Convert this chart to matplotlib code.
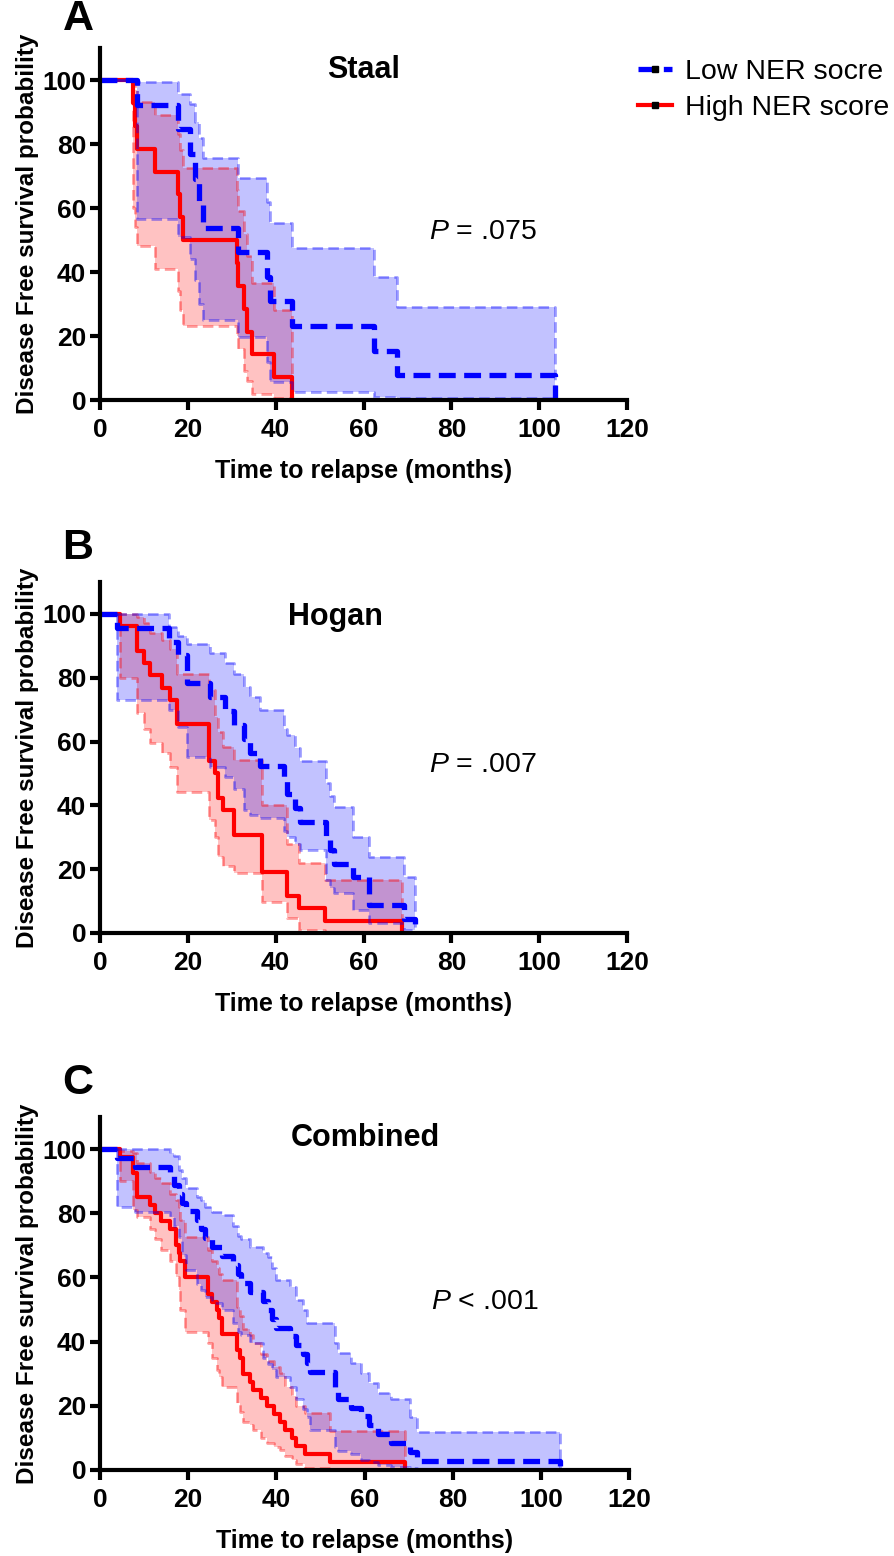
import numpy as np
import matplotlib.pyplot as plt
from matplotlib.lines import Line2D

plt.rcParams['font.family'] = ['Liberation Sans', 'DejaVu Sans']
plt.rcParams['font.weight'] = 'bold'
plt.rcParams['mathtext.fontset'] = 'custom'
plt.rcParams['mathtext.it'] = 'Liberation Sans:style=italic:weight=normal'
plt.rcParams['mathtext.rm'] = 'Liberation Sans:weight=normal'

# --- Staal: low NER score (blue) ---
staal_low_t = [0, 8.4, 17.8, 20.5, 21.6, 22.5, 23.5, 31.5, 38.0, 38.7, 43.7, 62.3, 67.6, 103.7]
staal_low_s = [100, 92.3, 84.6, 76.9, 69.2, 61.5, 53.8, 46.2, 38.5, 30.8, 23.1, 15.4, 7.7, 0]
staal_low_hi = [100, 99.5, 95.8, 92.5, 87, 81.9, 75.6, 69.4, 62, 55.2, 47.4, 38.5, 29.2, 0]
staal_low_lo = [100, 56.6, 51, 44, 37.5, 30, 25, 19.8, 12, 5.7, 2.6, 1, 0.5, 0]
# --- Staal: high NER score (red) ---
staal_high_t = [0, 7.4, 7.9, 8.4, 12.5, 17.8, 18.3, 18.8, 31.1, 31.5, 32.7, 33.4, 34.5, 39.5, 43.7]
staal_high_s = [100, 92.9, 85.7, 78.6, 71.4, 64.3, 57.1, 50, 42.9, 35.7, 28.6, 21.4, 14.3, 7.1, 0]
staal_high_hi = [100, 99.5, 97, 93, 89, 83, 78, 72.5, 65.6, 59, 52, 45, 36.5, 28, 0]
staal_high_lo = [100, 60, 54, 48, 41, 34, 28, 23, 20, 16, 9, 6, 2, 0.5, 0]

# --- Hogan: low NER score ---
hogan_low_t = [0, 3.8, 15.6, 17.8, 19.7, 25.1, 28.5, 30.4, 32.7, 34.2, 36.4, 41.8, 42.5, 44.4, 45.6,
               51.5, 52.3, 53.2, 57.5, 61.2, 69.1, 71.8]
hogan_low_s = [100, 95.7, 91.3, 87.0, 78.3, 73.9, 69.6, 65.2, 60.9, 56.5, 52.2, 47.8, 43.5, 39.1, 34.8,
               30.4, 26.1, 21.7, 17.4, 8.7, 4.3, 0]
hogan_low_hi = [100, 100, 96, 93, 90.5, 87.7, 84.6, 81, 77.2, 74, 69.9, 64, 62, 58, 54,
                47, 43, 39.6, 30, 23.9, 17.6, 0]
hogan_low_lo = [100, 73, 70, 64.7, 55.3, 52, 49, 45, 38.6, 37, 36, 32, 30.2, 28, 26,
                16.6, 14, 12.5, 7.2, 3, 1, 0]
# --- Hogan: high NER score ---
hogan_high_t = [0, 4.6, 8.4, 9.9, 11.4, 14.0, 15.9, 17.5, 24.7, 26.2, 26.9, 28.1, 30.4, 36.8, 42.5, 45.2, 51.3, 68.7]
hogan_high_s = [100, 96.2, 88.5, 84.6, 80.8, 76.9, 73.1, 65.4, 53.8, 50, 42.3, 38.5, 30.8, 19.2, 11.5, 7.7, 3.8, 0]
hogan_high_hi = [100, 100, 99, 97, 94, 91.8, 89, 81, 76, 67.8, 63, 58.4, 54.2, 40, 28, 21.9, 16.6, 0]
hogan_high_lo = [100, 80, 69, 64, 59.5, 56.4, 52, 44.3, 35.4, 30, 23.9, 21, 18.8, 9.8, 4.7, 1, 0.3, 0]

# --- Combined: low NER score ---
comb_low_t = [0, 3.8, 7.9, 15.9, 16.8, 17.8, 18.7, 19.6, 21.9, 22.8, 23.8, 25.5, 27.6, 30.2, 31.4, 32, 34, 37,
              38, 38.9, 40, 43.1, 44.5, 46, 46.9, 47.6, 53.3, 54, 57, 59.3, 61, 63.1, 66, 70.3, 71.8, 104.3]
comb_low_s = [100, 97.2, 94.4, 91.7, 88.9, 86.1, 83.3, 80.6, 77.8, 75, 72.2, 69.4, 66.7, 63.9, 61.1, 58.3, 55.6, 52.8,
              50, 47.2, 44.4, 41.7, 38.9, 36.1, 33.3, 30.6, 25, 22.2, 19.4, 16.7, 13.9, 11.1, 8.3, 5.6, 2.8, 0]
comb_low_hi = [100, 100, 100, 98.8, 97.8, 93.5, 91, 88, 85.2, 84, 82.1, 80.5, 79.5, 75.9, 73, 72, 69.6, 67.5,
               66.5, 63, 59.2, 57, 53, 50, 45.7, 45.7, 39.5, 36.4, 33.3, 30.2, 27, 23.9, 22, 16.6, 11.9, 0]
comb_low_lo = [100, 82.1, 80.5, 79, 76, 72.7, 67, 62.4, 58, 56, 54, 52, 49.9, 45.7, 43, 42, 39.5, 35,
               33, 31.2, 29, 26, 22, 19, 16.6, 12.5, 7.3, 6, 5, 3, 2.5, 1.5, 1, 0.5, 0.2, 0]
# --- Combined: high NER score ---
comb_high_t = [0, 4.5, 7.5, 8.3, 11.3, 12.5, 13.9, 15.9, 17.2, 17.8, 18.1, 19.3, 24.6, 25.5, 26.5, 27,
               27.6, 31, 31.8, 32.5, 34, 34.8, 36.5, 37.8, 39.5, 40.8, 42, 43.5, 44.5, 46.5, 52.2, 69.2]
comb_high_s = [100, 97.5, 92.5, 85, 82.5, 80, 77.5, 75, 70, 67.5, 65, 60, 55, 52.5, 50, 47.5,
               42.5, 37.5, 35, 30, 27.5, 25, 22.5, 20, 17.5, 15, 12.5, 10, 7.5, 5, 2.5, 0]
comb_high_hi = [100, 99.5, 98.8, 95.6, 93, 91, 89.4, 86, 84, 82.1, 78, 72.7, 68.6, 65, 63, 61,
                59.2, 50.9, 48, 44, 42, 39.5, 36, 34, 32, 30.2, 26, 22.9, 20, 17.7, 12, 0]
comb_high_lo = [100, 90, 81, 79, 75, 72, 68.6, 65, 60, 56, 50, 43.1, 39.5, 35, 31.2, 29,
                26, 20.8, 18, 15, 14, 12.5, 10, 8.5, 7, 6.2, 4.5, 3.1, 2, 0.5, 0.2, 0]

panel_letters = ['A', 'B', 'C']
panel_titles = ['Staal', 'Hogan', 'Combined']
p_texts = [r'$\it{P}$ = .075', r'$\it{P}$ = .007', r'$\it{P}$ < .001']
legend_labels = ['Low NER socre', 'High NER score']

BLUE = '#0000ff'
RED = '#ff0000'


def draw_km(ax, t, s, hi, lo, color, ls, lw):
    # confidence band, its dashed edges, then the survival curve
    ax.fill_between(t, lo, hi, step='post', color=color, alpha=0.24, lw=0)
    for b in (hi, lo):
        ax.step(t, b, where='post', color=color, alpha=0.4, lw=1.9, ls=(0, (4, 2)))
    ax.step(t, s, where='post', color=color, lw=lw, ls=ls, solid_capstyle='butt')


fig = plt.figure(figsize=(8.94, 15.56), dpi=100)
rects = [[0.1119, 0.7429, 0.5895, 0.2262],
         [0.1119, 0.4004, 0.5895, 0.2256],
         [0.1119, 0.0553, 0.5917, 0.2268]]
data = [
    (staal_low_t, staal_low_s, staal_low_hi, staal_low_lo, staal_high_t, staal_high_s, staal_high_hi, staal_high_lo),
    (hogan_low_t, hogan_low_s, hogan_low_hi, hogan_low_lo, hogan_high_t, hogan_high_s, hogan_high_hi, hogan_high_lo),
    (comb_low_t, comb_low_s, comb_low_hi, comb_low_lo, comb_high_t, comb_high_s, comb_high_hi, comb_high_lo),
]
title_pos = [(60, 103), (53.5, 99), (60.3, 103.5)]
letter_y = [0.9878, 0.6478, 0.304]

for i, ax_rect in enumerate(rects):
    ax = fig.add_axes(ax_rect)
    lt, ls_, lhi, llo, ht, hs, hhi, hlo = data[i]
    draw_km(ax, ht, hs, hhi, hlo, RED, '-', 3.0)
    draw_km(ax, lt, ls_, lhi, llo, BLUE, (0, (3.2, 1.6)), 3.8)

    ax.set_xlim(0, 120)
    ax.set_ylim(0, 110)
    ax.set_xticks([0, 20, 40, 60, 80, 100, 120])
    ax.set_yticks([0, 20, 40, 60, 80, 100])
    for side in ['top', 'right']:
        ax.spines[side].set_visible(False)
    for side in ['left', 'bottom']:
        ax.spines[side].set_linewidth(3)
    ax.tick_params(direction='out', length=7, width=3, labelsize=19, pad=3)
    ax.tick_params(axis='x', pad=6)
    ax.set_xlabel('Time to relapse (months)', fontsize=18, fontweight='bold', labelpad=12)
    ax.set_ylabel('Disease Free survival probability', fontsize=17.5, fontweight='bold', labelpad=2)

    ax.text(title_pos[i][0], title_pos[i][1], panel_titles[i], fontsize=22, fontweight='bold',
            ha='center', va='center')
    ax.text(75, 52.5, p_texts[i], fontsize=20.5, fontweight='normal', ha='left', va='center')
    fig.text(0.0872, letter_y[i], panel_letters[i], fontsize=31, fontweight='bold',
             ha='center', va='center')

handles = [Line2D([], [], color=BLUE, lw=3.8, ls=(0, (3.2, 1.6)), marker='s', markersize=4,
                  markerfacecolor='black', markeredgecolor='black'),
           Line2D([], [], color=RED, lw=3.0, marker='s', markersize=4,
                  markerfacecolor='black', markeredgecolor='black')]
fig.legend(handles, legend_labels, loc='upper right', bbox_to_anchor=(0.995, 0.962),
           frameon=False, prop={'size': 20.5, 'weight': 'normal'}, handlelength=1.2,
           handletextpad=0.45, labelspacing=0.35, borderaxespad=0, borderpad=0)

fig.savefig('out.png', dpi=100)
